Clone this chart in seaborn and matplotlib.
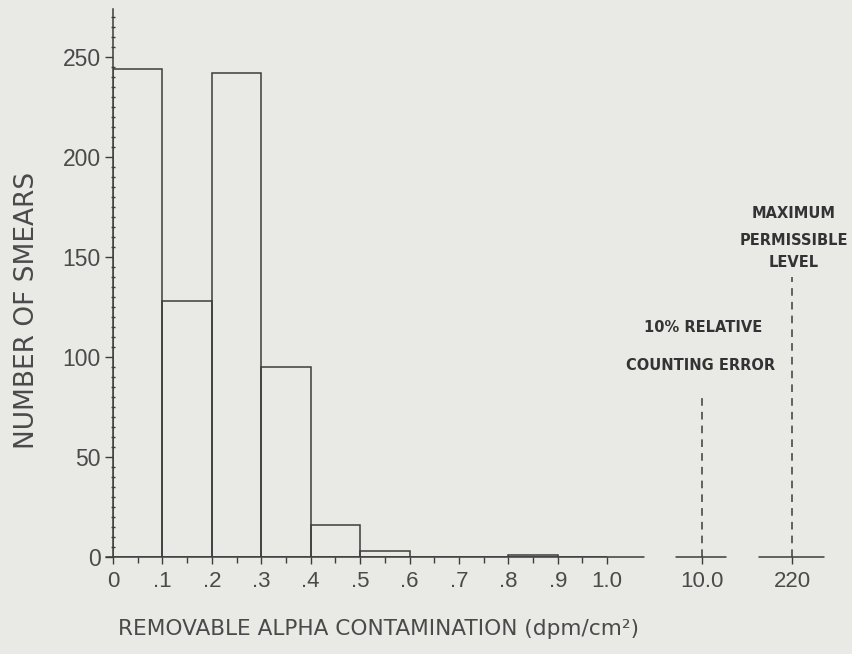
import matplotlib
matplotlib.use("Agg")
import matplotlib.pyplot as plt
import seaborn as sns
import numpy as np
from matplotlib.ticker import MultipleLocator

# --- DATA ---
bin_edges = [0.0, 0.1, 0.2, 0.3, 0.4, 0.5, 0.6, 0.7, 0.8, 0.9, 1.0]
smear_counts = [244, 128, 242, 95, 16, 3, 0, 0, 1, 0]
tick_labels = ["0", ".1", ".2", ".3", ".4", ".5", ".6", ".7", ".8", ".9", "1.0", "10.0", "220"]

# broken axis: where 10.0 and 220 dpm/cm2 sit on the drawn scale
pos_counting_error = 1.192
pos_max_level = 1.374
counting_error_top = 80
max_level_top = 140

# --- STYLE ---
sns.set_theme(style="white")
plt.rcParams["font.family"] = ["Liberation Sans", "DejaVu Sans"]
bg = "#e9e9e6"
ink = "#3c3c3c"
txt = "#4a4a4a"

fig = plt.figure(figsize=(8.53, 6.54), dpi=100, facecolor=bg)
ax = fig.add_axes([0.1325, 0.148, 0.84, 0.838], facecolor=bg)

centers = [(a + b) / 2 for a, b in zip(bin_edges[:-1], bin_edges[1:])]
sns.histplot(x=centers, weights=smear_counts, bins=bin_edges, fill=False,
             element="bars", color=ink, linewidth=1.1, ax=ax)

ax.set_xlim(0, 1.45)
ax.set_ylim(0, 274)

# spines
for s in ["top", "right", "bottom"]:
    ax.spines[s].set_visible(False)
ax.spines["left"].set_color(ink)
ax.spines["left"].set_linewidth(1.1)

# broken x-axis line segments
seg_kw = dict(color=ink, lw=1.1, clip_on=False, transform=ax.get_xaxis_transform())
ax.plot([-0.015, 1.075], [0, 0], **seg_kw)
ax.plot([1.139, 1.240], [0, 0], **seg_kw)
ax.plot([1.307, 1.438], [0, 0], **seg_kw)

# ticks
xpos = bin_edges + [pos_counting_error, pos_max_level]
ax.set_xticks(xpos)
ax.set_xticklabels(tick_labels)
ax.set_xticks(list(np.arange(0.05, 1.0, 0.1)), minor=True)
ax.tick_params(axis="x", which="major", direction="out", length=5, width=1.0,
               color=ink, labelsize=16, labelcolor=txt, pad=5)
ax.tick_params(axis="x", which="minor", direction="out", length=4, width=1.0, color=ink)

ax.set_yticks([0, 50, 100, 150, 200, 250])
ax.yaxis.set_minor_locator(MultipleLocator(5))
ax.tick_params(axis="y", which="major", direction="out", length=6, width=1.0,
               color=ink, labelsize=16.5, labelcolor=txt, pad=3)
ax.tick_params(axis="y", which="minor", direction="inout", length=3, width=1.0, color=ink)
ax.tick_params(bottom=True, left=True, which="both")

# dashed reference lines
ax.plot([pos_counting_error, pos_counting_error], [0, counting_error_top],
        ls=(0, (5, 4)), color=ink, lw=1.1)
ax.plot([pos_max_level, pos_max_level], [0, max_level_top],
        ls=(0, (5, 4)), color=ink, lw=1.1)

ann = dict(ha="center", va="center", fontsize=10.5, fontweight="bold", color="#333333",
           family=["DejaVu Sans"])
ax.text(1.378, 172, "MAXIMUM", **ann)
ax.text(1.378, 158.5, "PERMISSIBLE", **ann)
ax.text(1.378, 147.5, "LEVEL", **ann)
ax.text(1.194, 115, "10% RELATIVE", **ann)
ax.text(1.188, 96, "COUNTING ERROR", **ann)

ax.set_xlabel("REMOVABLE ALPHA CONTAMINATION (dpm/cm²)", fontsize=15.6, color=txt,
              family=["DejaVu Sans"])
ax.set_ylabel("NUMBER OF SMEARS", fontsize=19, color=txt, family=["DejaVu Sans"])
ax.xaxis.set_label_coords(0.371, -0.113)
ax.yaxis.set_label_coords(-0.102, 0.45)

fig.savefig("out.png", dpi=100, facecolor=bg)
